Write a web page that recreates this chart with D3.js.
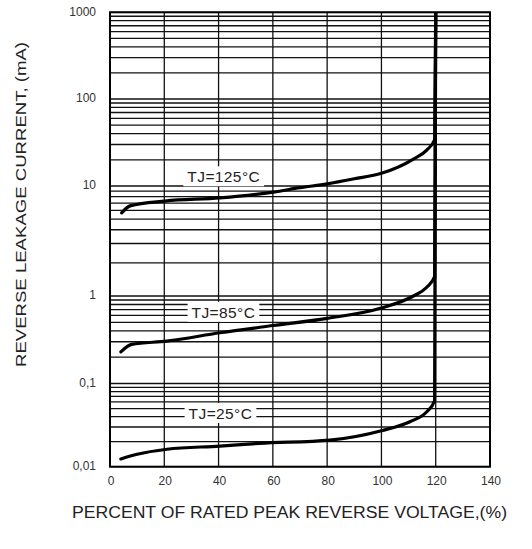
<!DOCTYPE html>
<html>
<head>
<meta charset="utf-8">
<script src="https://cdn.jsdelivr.net/npm/d3@7"></script>
<style>
  html, body { margin: 0; padding: 0; background: #fff; }
  svg { display: block; font-family: "Liberation Sans", Arial, sans-serif; }
</style>
</head>
<body>
<div id="chart"></div>
<script>
// axis ticks
const xTicks = [0, 20, 40, 60, 80, 100, 120, 140];
const yTickValues = [0.01, 0.1, 1, 10, 100, 1000];
const yTickLabels = ["0,01", "0,1", "1", "10", "100", "1000"];

// curves (percent of rated voltage, mA)
const pct25 = [4, 10, 21, 40.5, 55, 81, 100, 110.5, 116.7, 119.6, 120];
const leak25 = [0.0124, 0.0141, 0.0162, 0.0177, 0.0191, 0.0209, 0.0271, 0.0347, 0.0458, 0.062, 1000];

const pct85 = [4, 8, 21, 40.5, 60, 80, 100, 111.8, 116.7, 119.6, 120];
const leak85 = [0.23, 0.28, 0.305, 0.38, 0.46, 0.556, 0.73, 1.0, 1.2, 1.5, 1000];

const pct125 = [4.3, 7.4, 20.3, 40.5, 60.2, 70, 80, 90, 100, 111.8, 116.7, 119.6, 120];
const leak125 = [5.7, 6.6, 7.3, 7.8, 8.8, 9.65, 10.6, 12.1, 14.0, 20.4, 25.9, 34, 1000];

const curveLabels = ["TJ=25°C", "TJ=85°C", "TJ=125°C"];
const labelPct = [40.7, 41.8, 41.9];
const labelLeak = [0.0438, 0.652, 12.8];

const width = 532, height = 549;
const svg = d3.select("#chart").append("svg")
  .attr("width", width)
  .attr("height", height);

svg.append("rect").attr("width", width).attr("height", height).attr("fill", "#fff");

const x = d3.scaleLinear()
  .domain([0, 140])
  .range([110, 490]);

// the printed decades are not evenly spaced, so use a piecewise log scale
const y = d3.scaleLog()
  .domain(yTickValues)
  .range([466.7, 383.5, 296, 186, 99, 12.3]);

// minor log grid: 1..9 in every decade
const gridValues = [];
for (let i = 0; i < yTickValues.length - 1; i++) {
  for (let m = 1; m <= 9; m++) gridValues.push(yTickValues[i] * m);
}
gridValues.push(1000);

const grid = svg.append("g").attr("stroke", "#111").attr("stroke-width", 1.3);

grid.selectAll("line.h")
  .data(gridValues)
  .enter().append("line")
  .attr("class", "h")
  .attr("x1", x(0)).attr("x2", x(140))
  .attr("y1", d => y(d)).attr("y2", d => y(d));

grid.selectAll("line.v")
  .data(xTicks)
  .enter().append("line")
  .attr("class", "v")
  .attr("x1", d => x(d)).attr("x2", d => x(d))
  .attr("y1", y(0.01)).attr("y2", y(1000));

// frame
svg.append("rect")
  .attr("x", x(0)).attr("y", y(1000))
  .attr("width", x(140) - x(0))
  .attr("height", y(0.01) - y(1000))
  .attr("fill", "none")
  .attr("stroke", "#000")
  .attr("stroke-width", 2);

// curves
const line = d3.line()
  .x(d => x(d[0]))
  .y(d => y(d[1]))
  .curve(d3.curveMonotoneX);

const series = [
  d3.zip(pct25, leak25),
  d3.zip(pct85, leak85),
  d3.zip(pct125, leak125)
];

svg.append("clipPath").attr("id", "plotclip")
  .append("rect")
  .attr("x", x(0)).attr("y", y(1000))
  .attr("width", x(140) - x(0))
  .attr("height", y(0.01) - y(1000));

svg.append("g")
  .attr("clip-path", "url(#plotclip)")
  .selectAll("path")
  .data(series)
  .enter().append("path")
  .attr("d", line)
  .attr("fill", "none")
  .attr("stroke", "#000")
  .attr("stroke-width", 3.2)
  .attr("stroke-linecap", "round");

// curve labels on white boxes
const labels = svg.append("g")
  .attr("font-size", 15.5)
  .attr("fill", "#222");

curveLabels.forEach((t, i) => {
  const g = labels.append("g");
  const txt = g.append("text")
    .attr("x", x(labelPct[i]))
    .attr("y", y(labelLeak[i]))
    .attr("dy", "0.36em")
    .attr("text-anchor", "middle")
    .attr("letter-spacing", 0.4)
    .text(t);
  const bb = txt.node().getBBox();
  g.insert("rect", "text")
    .attr("x", bb.x - 4).attr("y", bb.y - 2)
    .attr("width", bb.width + 8).attr("height", bb.height + 3)
    .attr("fill", "#fff");
});

// tick labels
svg.append("g")
  .attr("font-size", 12)
  .attr("fill", "#333")
  .attr("text-anchor", "middle")
  .selectAll("text")
  .data(xTicks)
  .enter().append("text")
  .attr("x", d => x(d) + 1)
  .attr("y", 481)
  .attr("dy", "0.35em")
  .text(d => d);

svg.append("g")
  .attr("font-size", 12)
  .attr("fill", "#333")
  .attr("text-anchor", "end")
  .selectAll("text")
  .data(yTickValues)
  .enter().append("text")
  .attr("x", 96)
  .attr("y", d => y(d) - 1)
  .attr("dy", "0.35em")
  .text((d, i) => yTickLabels[i]);

// axis titles
svg.append("text")
  .attr("x", 289.5)
  .attr("y", 512)
  .attr("dy", "0.35em")
  .attr("text-anchor", "middle")
  .attr("font-size", 16)
  .attr("fill", "#222")
  .attr("textLength", 435)
  .attr("lengthAdjust", "spacingAndGlyphs")
  .text("PERCENT OF RATED PEAK REVERSE VOLTAGE,(%)");

svg.append("text")
  .attr("transform", "translate(20.5,204.5) rotate(-90)")
  .attr("dy", "0.35em")
  .attr("text-anchor", "middle")
  .attr("font-size", 15.5)
  .attr("fill", "#222")
  .attr("textLength", 325)
  .attr("lengthAdjust", "spacingAndGlyphs")
  .text("REVERSE LEAKAGE CURRENT, (mA)");
</script>
</body>
</html>
